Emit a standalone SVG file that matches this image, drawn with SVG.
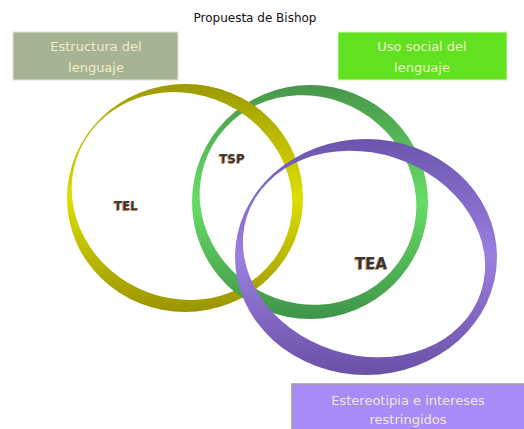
<svg xmlns="http://www.w3.org/2000/svg" width="524" height="429" viewBox="0 0 524 429">
  <style>
    .title { font-family: "DejaVu Sans", "Liberation Sans", sans-serif; font-size: 12px; fill: #111; text-anchor: middle; }
    .boxtxt { font-family: "DejaVu Sans", "Liberation Sans", sans-serif; font-size: 13px; text-anchor: middle; }
    .lbl { font-family: "DejaVu Sans", "Liberation Sans", sans-serif; font-weight: bold; text-anchor: middle; }
    .lbl-shadow { fill: #c48a5a; }
    .lbl-main { fill: #3a3434; }
  </style>
  <defs>
    <linearGradient id="gYellow" x1="0" y1="0" x2="0" y2="1">
      <stop offset="0" stop-color="#9c9a00"/>
      <stop offset="0.5" stop-color="#dede00"/>
      <stop offset="1" stop-color="#9a9400"/>
    </linearGradient>
    <linearGradient id="gGreen" x1="0" y1="0" x2="0" y2="1">
      <stop offset="0" stop-color="#47974a"/>
      <stop offset="0.5" stop-color="#66dd66"/>
      <stop offset="1" stop-color="#3f9449"/>
    </linearGradient>
    <linearGradient id="gPurple" x1="0" y1="0" x2="0" y2="1">
      <stop offset="0" stop-color="#6b55ad"/>
      <stop offset="0.5" stop-color="#9a7fe0"/>
      <stop offset="1" stop-color="#6a50a6"/>
    </linearGradient>
    <clipPath id="clipTop">
      <rect x="195" y="80" width="110" height="70"/>
    </clipPath>
    <path id="ringYellow" fill-rule="evenodd" d="M67,198 a118,114 0 1,0 236,0 a118,114 0 1,0 -236,0 Z M80.5,148.6 A112,102 25 1,0 283.5,243.4 A112,102 25 1,0 80.5,148.6 Z"/>
  </defs>

  <text class="title" x="255" y="22">Propuesta de Bishop</text>

  <g id="node-estructura">
    <rect x="13" y="32" width="165" height="48" fill="#a7b494" stroke="#dfe3d6" stroke-width="1"/>
    <text class="boxtxt" x="96" y="51" fill="#efecc6">Estructura  del</text>
    <text class="boxtxt" x="96" y="72" fill="#efecc6">lenguaje</text>
  </g>

  <g id="node-uso">
    <rect x="338" y="32" width="169" height="48" fill="#62e121" stroke="#d8f5c8" stroke-width="1"/>
    <text class="boxtxt" x="422" y="51" fill="#eef2c6">Uso social del</text>
    <text class="boxtxt" x="422" y="72" fill="#eef2c6">lenguaje</text>
  </g>

  <g id="ring-TEL">
    <use href="#ringYellow" fill="url(#gYellow)"/>
  </g>

  <g id="ring-TSP">
    <path fill="url(#gGreen)" fill-rule="evenodd" d="M192,202 a118,117 0 1,0 236,0 a118,117 0 1,0 -236,0 Z M212.7,145 A110,103 30 1,0 403.3,255 A110,103 30 1,0 212.7,145 Z"/>
  </g>

  <g id="ring-TEL-over">
    <use href="#ringYellow" fill="url(#gYellow)" clip-path="url(#clipTop)"/>
  </g>

  <g id="ring-TEA">
    <path fill="url(#gPurple)" fill-rule="evenodd" d="M235,257 a131,118 0 1,0 262,0 a131,118 0 1,0 -262,0 Z M247,216 A123,101 18 1,0 481,292 A123,101 18 1,0 247,216 Z"/>
  </g>

  <g id="node-TEL">
    <text class="lbl lbl-shadow" x="125.2" y="210.8" font-size="12">TEL</text>
    <text class="lbl lbl-main" x="126" y="210" font-size="12">TEL</text>
  </g>
  <g id="node-TSP">
    <text class="lbl lbl-shadow" x="231.2" y="163.8" font-size="12">TSP</text>
    <text class="lbl lbl-main" x="232" y="163" font-size="12">TSP</text>
  </g>
  <g id="node-TEA">
    <text class="lbl lbl-shadow" x="370.2" y="269.8" font-size="15">TEA</text>
    <text class="lbl lbl-main" x="371" y="269" font-size="15">TEA</text>
  </g>

  <g id="node-estereotipia">
    <rect x="292" y="384" width="240" height="50" fill="#a98bf8" stroke="#9a9a9a" stroke-width="1.5"/>
    <text class="boxtxt" x="408" y="405" fill="#f1e8cc">Estereotipia e intereses</text>
    <text class="boxtxt" x="408" y="424" fill="#f1e8cc">restringidos</text>
  </g>

  <g id="connectors"></g>
</svg>
